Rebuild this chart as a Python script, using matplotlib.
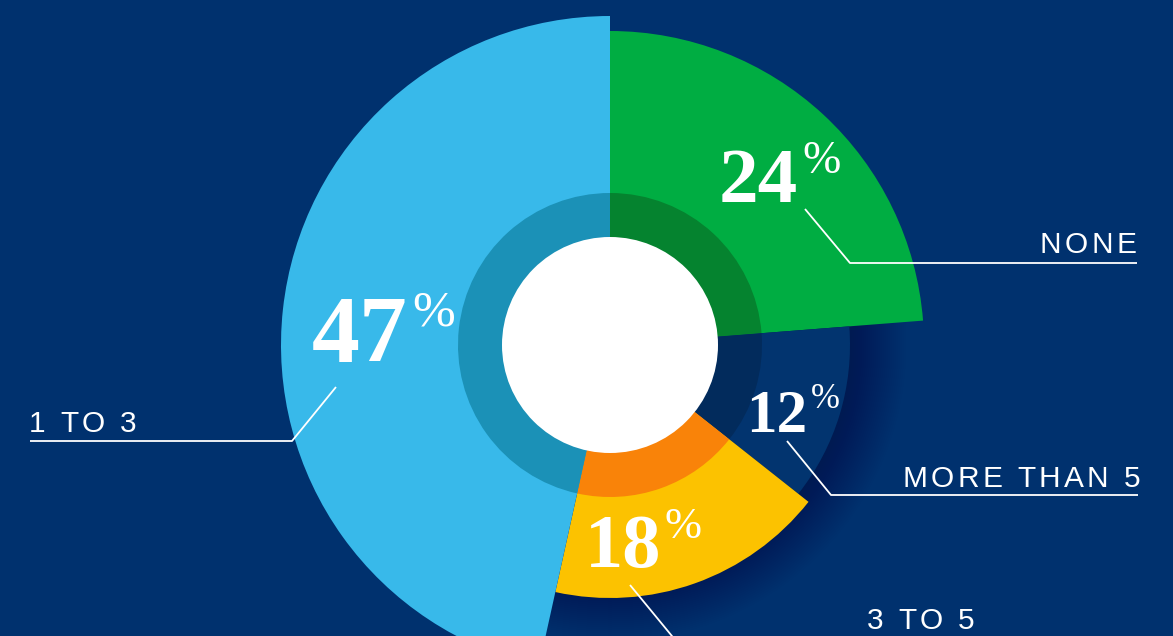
import matplotlib
matplotlib.use('Agg')
import matplotlib.pyplot as plt
from matplotlib.patches import Wedge
from matplotlib import font_manager
from matplotlib.ft2font import FT2Font

# data (clockwise from 12 o'clock)
categories = ['NONE', 'MORE THAN 5', '3 TO 5', '1 TO 3']
values = [24, 12, 18, 47]

# styles
bg = '#00316e'
outer_colors = ['#00ad42', '#02346f', '#fcc200', '#38b9ea']
inner_colors = ['#05832f', '#022b5c', '#f98309', '#1b91b7']
outer_r = [314, 240, 253, 329]
ring_r = 152
hole_r = 108
cx, cy = 610, 345  # centre in pixel units (y goes down)

# label layout: digits right x, baseline y, size / % baseline, size
num_pos = [(798, 202, 57), (807, 432, 44), (661, 567, 55), (408, 362, 69)]
pct_pos = [(173, 33), (408, 25), (538, 32), (325, 37)]
cat_pos = [(1136, 253, 'right'), (1140, 487, 'right'), (867, 629, 'left'), (29, 432, 'left')]
leaders = [[(805, 209), (850, 263), (1137, 263)],
           [(787, 441), (831, 495), (1138, 495)],
           [(630, 585), (690, 658)],
           [(336, 387), (292, 441), (30, 441)]]

fig = plt.figure(figsize=(11.73, 6.36), dpi=100, facecolor=bg)
ax = fig.add_axes([0, 0, 1, 1])
ax.set_facecolor(bg)
ax.set_xlim(0, 1173)
ax.set_ylim(636, 0)
ax.set_aspect('equal')
ax.axis('off')


def vis_wedge(r, a1, a2, **kw):
    # a1 -> a2 are screen angles (counter clockwise), axis y is inverted
    return Wedge((cx, cy), r, -a2, -a1, **kw)


## soft shadow in the lower right (hidden under the big wedges at both ends)
for k in range(30):
    ax.add_patch(vis_wedge(238 + k * 2, -115, 8, color='#001a40', alpha=0.0055,
                           lw=0, antialiased=False, zorder=1))

## wedges
total = sum(values)
start = 90
for v, col, icol, r in zip(values, outer_colors, inner_colors, outer_r):
    span = v / total * 360
    a1, a2 = start - span, start
    ax.add_patch(vis_wedge(r, a1, a2, color=col, lw=0, zorder=2))
    ax.add_patch(vis_wedge(ring_r, a1, a2, color=icol, lw=0, zorder=3))
    start = a1

ax.add_patch(plt.Circle((cx, cy), hole_r, color='white', lw=0, zorder=4))

## percentage labels
for v, (nx, ny, ns), (py, ps) in zip(values, num_pos, pct_pos):
    ax.text(nx, ny, str(v), ha='right', va='baseline', color='white',
            family='Liberation Serif', weight='bold', fontsize=ns, zorder=6)
    ax.text(nx + 4, py, '%', ha='left', va='baseline', color='white',
            family='Liberation Serif', fontsize=ps, zorder=6)

## leader lines
for pts in leaders:
    ax.plot([p[0] for p in pts], [p[1] for p in pts], color='white', lw=1.3,
            solid_capstyle='butt', zorder=5)


def spaced_text(x, y, s, size, track, align):
    prop = font_manager.FontProperties(family='Liberation Sans', size=size)
    font = FT2Font(font_manager.findfont(prop))
    font.set_size(size, 100)
    advs = [font.load_char(ord(c)).linearHoriAdvance / 65536 for c in s]
    width = sum(advs) + track * (len(s) - 1)
    if align == 'right':
        x = x - width
    for c, a in zip(s, advs):
        if c != ' ':
            ax.text(x, y, c, fontproperties=prop, color='white', ha='left',
                    va='baseline', zorder=6)
        x += a + track


for name, (x, y, al) in zip(categories, cat_pos):
    spaced_text(x, y, name, 21.5, 3.3, al)

fig.savefig('out.png', dpi=100, facecolor=bg)
